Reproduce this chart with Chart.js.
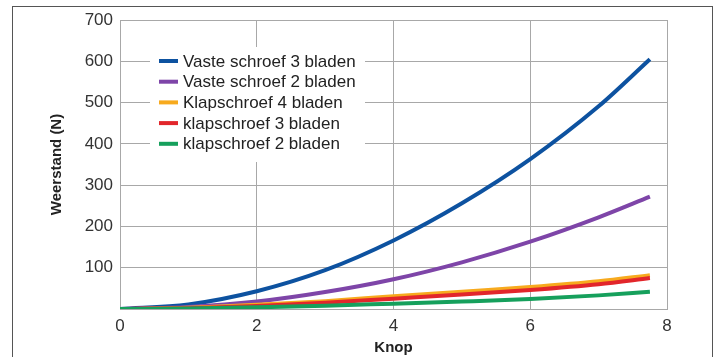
<!DOCTYPE html>
<html>
<head>
<meta charset="utf-8">
<script src="https://cdn.jsdelivr.net/npm/chart.js@4"></script>
<style>
  body { margin: 0; background: #fff; }
  #wrap { position: relative; width: 719px; height: 357px; }
  #frame { position: absolute; left: 12px; top: 6px; width: 699px; height: 360px;
           border: 1px solid #555; border-bottom: none; }
  canvas { position: absolute; left: 0; top: 0; }
</style>
</head>
<body>
<div id="wrap">
  <div id="frame"></div>
  <canvas id="myChart" width="719" height="357"></canvas>
</div>
<script>
// snelheid in knopen
const knop = [0, 1, 2, 3, 4, 5, 6, 7, 7.75];
const vaste3 = [0, 11, 43, 94, 166, 256, 363, 491, 605];
const vaste2 = [0, 5, 18, 41, 72, 113, 163, 222, 272];
const klap4 = [0, 3, 10, 19, 31, 42, 53, 67, 82];
const klap3 = [0, 2, 7, 15, 25, 35, 46, 60, 75];
const klap2 = [0, 1, 4, 8, 13, 18, 24, 33, 42];
const names = ['Vaste schroef 3 bladen', 'Vaste schroef 2 bladen', 'Klapschroef 4 bladen', 'klapschroef 3 bladen', 'klapschroef 2 bladen'];
const yTicks = [100, 200, 300, 400, 500, 600, 700];

const colors = ['#0d52a0', '#7e45a8', '#f7aa1e', '#e2262b', '#16a05c'];
const series = [vaste3, vaste2, klap4, klap3, klap2];

const fontFam = "'Liberation Sans', Arial, Helvetica, sans-serif";

// legenda binnen het plotvlak, met witte achtergrond
const legendBox = {
    id: 'legendBox',
    beforeDatasetsDraw(chart) {
        const ctx = chart.ctx;
        const a = chart.chartArea;
        ctx.save();
        ctx.fillStyle = '#fff';
        ctx.fillRect(a.left + 30, a.top + 27, 215, 115);
        ctx.font = '17px ' + fontFam;
        ctx.textBaseline = 'middle';
        chart.data.datasets.forEach((ds, i) => {
            const y = a.top + 41 + i * 20.7;
            ctx.fillStyle = ds.borderColor;
            ctx.fillRect(a.left + 39, y - 2, 19, 4);
            ctx.fillStyle = '#222';
            ctx.fillText(ds.label, a.left + 63, y + 1);
        });
        ctx.restore();
    }
};

const ctx = document.getElementById('myChart');
new Chart(ctx, {
    type: 'line',
    data: {
        datasets: series.map((s, i) => ({
            label: names[i],
            data: s.map((v, j) => ({ x: knop[j], y: v })),
            borderColor: colors[i],
            borderWidth: 4,
            pointRadius: 0,
            cubicInterpolationMode: 'monotone',
            order: 5 - i
        }))
    },
    options: {
        responsive: false,
        animation: false,
        layout: { padding: { left: 44, right: 52, top: 20, bottom: 0 } },
        plugins: { legend: { display: false }, tooltip: { enabled: false } },
        scales: {
            x: {
                type: 'linear',
                min: 0, max: 8,
                afterFit: (s) => { s.height = 48; },
                ticks: { stepSize: 2, padding: 7, color: '#333', font: { family: fontFam, size: 17 } },
                grid: { color: '#a8a8a8', drawTicks: false },
                border: { color: '#a8a8a8' },
                title: { display: true, text: 'Knop', color: '#222', padding: { top: 0, bottom: 0 },
                         font: { family: fontFam, size: 15, weight: 'bold' } }
            },
            y: {
                min: 0, max: 700,
                afterFit: (s) => { s.width = 76; },
                afterBuildTicks: (s) => { s.ticks = [0].concat(yTicks).map(v => ({ value: v })); },
                ticks: {
                    padding: 7, color: '#333', font: { family: fontFam, size: 17 },
                    callback: (v) => v === 0 ? '' : v
                },
                grid: { color: '#a8a8a8', drawTicks: false },
                border: { color: '#a8a8a8' },
                title: { display: true, text: 'Weerstand (N)', color: '#222', padding: { top: 4, bottom: 0 },
                         font: { family: fontFam, size: 15, weight: 'bold' } }
            }
        }
    },
    plugins: [legendBox]
});
</script>
</body>
</html>
